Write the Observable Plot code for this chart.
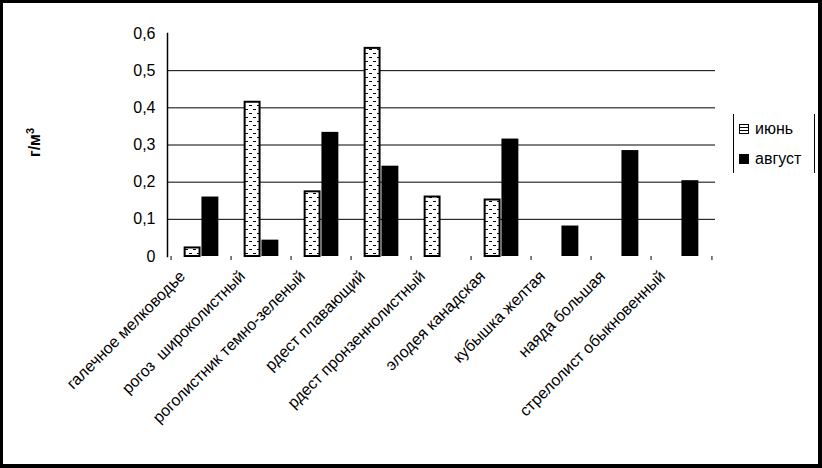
<!DOCTYPE html>
<html><head><meta charset="utf-8">
<script src="https://cdn.jsdelivr.net/npm/d3@7"></script>
<script src="https://cdn.jsdelivr.net/npm/@observablehq/plot@0.6"></script>
<style>
html,body{margin:0;padding:0;background:#fff;}
#wrap{position:relative;width:822px;height:468px;overflow:hidden;font-family:"Liberation Sans",Arial,sans-serif;}
#frame{position:absolute;left:0;top:0;width:822px;height:468px;box-sizing:border-box;border:3px solid #000;border-right-width:4px;border-bottom-width:4px;pointer-events:none;}
#legend{position:absolute;left:733px;top:114px;width:82px;height:59px;box-sizing:border-box;border-left:1px solid #000;border-right:1px solid #000;font-size:16px;}
#legend .row{position:absolute;left:5px;height:12px;display:flex;align-items:center;}
#legend .sw{width:10px;height:10px;box-sizing:border-box;border:1px solid #000;margin-right:6px;}
svg{position:absolute;left:0;top:0;}
</style></head>
<body><div id="wrap"></div>
<script>
const categories = ["галечное мелководье","рогоз  широколистный","роголистник темно-зеленый","рдест плавающий","рдест пронзеннолистный","элодея канадская","кубышка желтая","наяда большая","стрелолист обыкновенный"];
const seriesNames = ["июнь","август"];
const june = [0.023,0.415,0.174,0.56,0.16,0.152,0,0,0];
const august = [0.16,0.044,0.334,0.243,0,0.316,0.082,0.285,0.204];
const yTicks = [0,0.1,0.2,0.3,0.4,0.5,0.6];
const gridTicks = [0.1,0.2,0.3,0.4,0.5];
const yLabel = "г/м";
const yLabelSup = "3";

const W = 822, H = 468, mL = 167, mR = 107, mT = 33, mB = 212;
const bw = (W - mL - mR) / categories.length;
const barW = 17.8;
const juneData = categories.map((c,i)=>({cat:c, v:june[i]}));
const augData = categories.map((c,i)=>({cat:c, v:august[i]}));
const fmt = d => d === 0 ? "0" : d3.format(".1f")(d).replace(".", ",");

const chart = Plot.plot({
  width: W, height: H, marginLeft: mL, marginRight: mR, marginTop: mT, marginBottom: mB,
  style: {fontFamily: '"Liberation Sans", Arial, sans-serif', background: "transparent", color: "#000"},
  x: {type: "band", domain: categories, padding: 0, axis: null},
  y: {domain: [0, 0.6], axis: null},
  marks: [
    Plot.gridY(gridTicks, {stroke: "#000", strokeOpacity: 1, strokeWidth: 1}),
    Plot.barY(juneData.filter(d=>d.v>0), {x: "cat", y: "v", fill: "url(#junePat)", stroke: "#000", strokeWidth: 2,
      insetLeft: bw/2 - barW + 1, insetRight: bw/2 + 1}),
    Plot.barY(augData.filter(d=>d.v>0), {x: "cat", y: "v", fill: "#000",
      insetLeft: bw/2, insetRight: bw/2 - barW}),
    Plot.frame({anchor: "left", stroke: "#000", strokeWidth: 1.5}),
    Plot.axisY(yTicks, {tickSize: 0, tickPadding: 12, tickFormat: fmt, fontSize: 16, label: null}),
    Plot.axisX(categories, {tickSize: 4, tickFormat: () => "", dx: -bw/2, label: null, stroke: "#000"}),
    Plot.axisX([categories[categories.length-1]], {tickSize: 4, tickFormat: () => "", dx: bw/2, label: null}),
    Plot.axisX(categories, {tickSize: 0, tickRotate: -45, tickPadding: 0, fontSize: 16, dx: -19, dy: 17, label: null}),
    Plot.text([yLabel], {frameAnchor: "left", dx: -133, dy: 12, rotate: -90, fontSize: 16, fontWeight: "bold", fill: "#000", className: "ylab"})
  ]
});

// pattern for June bars
const ns = "http://www.w3.org/2000/svg";
const defs = document.createElementNS(ns, "defs");
defs.innerHTML = `<pattern id="junePat" patternUnits="userSpaceOnUse" width="8" height="8">
  <rect width="8" height="8" fill="#fff"/>
  <rect x="1" y="1" width="3" height="1" fill="#000"/>
  <rect x="5" y="5" width="3" height="1" fill="#000"/>
</pattern>`;
chart.insertBefore(defs, chart.firstChild);

// superscript on y label
const yt = chart.querySelector(".ylab text");
if (yt) {
  const sup = document.createElementNS(ns, "tspan");
  sup.setAttribute("dy", "-0.55em");
  sup.setAttribute("font-size", "11");
  sup.textContent = yLabelSup;
  yt.appendChild(sup);
}

const wrap = document.getElementById("wrap");
wrap.appendChild(chart);

const legend = document.createElement("div");
legend.id = "legend";
seriesNames.forEach((s,i) => {
  const row = document.createElement("div");
  row.className = "row";
  row.style.top = (i === 0 ? 9 : 39) + "px";
  const sw = document.createElement("div");
  sw.className = "sw";
  sw.style.background = i === 0 ? "repeating-linear-gradient(#fff 0 2px,#000 2px 3px)" : "#000";
  row.appendChild(sw);
  const t = document.createElement("span");
  t.textContent = s;
  row.appendChild(t);
  legend.appendChild(row);
});
wrap.appendChild(legend);
const fr = document.createElement("div");
fr.id = "frame";
wrap.appendChild(fr);
</script>
</body></html>
